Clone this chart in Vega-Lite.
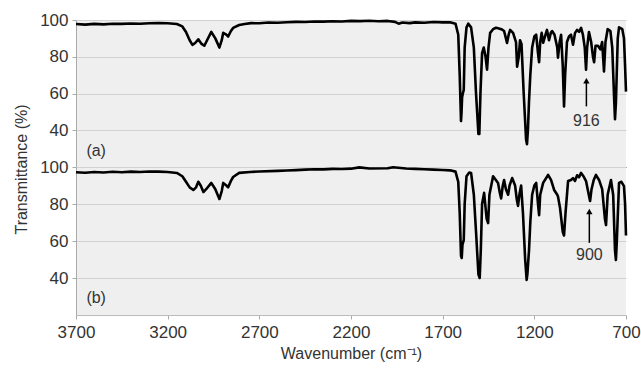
{
  "$schema": "https://vega.github.io/schema/vega-lite/v6.json",
  "background": "white",
  "padding": {"left": 13, "top": 11, "right": 10, "bottom": 2},
  "bounds": "flush",
  "spacing": 0,
  "datasets": {
    "a": [
      {"wn":3700,"t":97.8},{"wn":3650,"t":97.5},{"wn":3600,"t":97.9},{"wn":3550,"t":97.6},{"wn":3500,"t":98.0},{"wn":3450,"t":97.9},{"wn":3400,"t":98.1},{"wn":3350,"t":98.0},{"wn":3300,"t":98.2},{"wn":3250,"t":98.3},{"wn":3200,"t":98.2},{"wn":3150,"t":97.8},{"wn":3120,"t":96.5},{"wn":3100,"t":93.5},{"wn":3080,"t":89},{"wn":3065,"t":86.5},{"wn":3050,"t":87.5},{"wn":3033,"t":89.5},{"wn":3015,"t":87},{"wn":3000,"t":86},{"wn":2985,"t":89},{"wn":2962,"t":93.5},{"wn":2940,"t":90},{"wn":2918,"t":85},{"wn":2905,"t":89},{"wn":2897,"t":93},{"wn":2880,"t":92},{"wn":2870,"t":91},{"wn":2855,"t":94},{"wn":2843,"t":95.7},{"wn":2810,"t":97.3},{"wn":2780,"t":97.8},{"wn":2745,"t":98.3},{"wn":2700,"t":98.2},{"wn":2650,"t":98.6},{"wn":2600,"t":98.5},{"wn":2550,"t":98.8},{"wn":2500,"t":99.0},{"wn":2450,"t":98.9},{"wn":2400,"t":99.2},{"wn":2350,"t":99.1},{"wn":2300,"t":99.3},{"wn":2250,"t":99.2},{"wn":2200,"t":99.5},{"wn":2150,"t":99.4},{"wn":2100,"t":99.6},{"wn":2050,"t":99.3},{"wn":2000,"t":99.5},{"wn":1960,"t":99.0},{"wn":1940,"t":98.0},{"wn":1920,"t":98.6},{"wn":1880,"t":98.3},{"wn":1850,"t":98.7},{"wn":1800,"t":98.5},{"wn":1750,"t":98.9},{"wn":1700,"t":98.7},{"wn":1660,"t":98.8},{"wn":1630,"t":98.0},{"wn":1615,"t":92},{"wn":1607,"t":70},{"wn":1600,"t":45},{"wn":1597,"t":50},{"wn":1594,"t":58},{"wn":1590,"t":60},{"wn":1585,"t":62},{"wn":1580,"t":85},{"wn":1570,"t":96},{"wn":1560,"t":98},{"wn":1545,"t":96},{"wn":1530,"t":85},{"wn":1518,"t":60},{"wn":1505,"t":38},{"wn":1500,"t":38},{"wn":1494,"t":60},{"wn":1485,"t":82},{"wn":1476,"t":85},{"wn":1466,"t":80},{"wn":1458,"t":73},{"wn":1450,"t":85},{"wn":1441,"t":93},{"wn":1425,"t":95},{"wn":1409,"t":95.8},{"wn":1398,"t":95.5},{"wn":1380,"t":95},{"wn":1365,"t":94},{"wn":1355,"t":90},{"wn":1349,"t":87.5},{"wn":1340,"t":92},{"wn":1332,"t":94.6},{"wn":1316,"t":93},{"wn":1300,"t":88},{"wn":1294,"t":74.6},{"wn":1285,"t":80},{"wn":1278,"t":89},{"wn":1270,"t":87},{"wn":1258,"t":60},{"wn":1245,"t":35},{"wn":1240,"t":32.4},{"wn":1235,"t":40},{"wn":1229,"t":55.7},{"wn":1222,"t":70},{"wn":1212,"t":85},{"wn":1200,"t":91},{"wn":1190,"t":92},{"wn":1180,"t":82},{"wn":1174,"t":77},{"wn":1168,"t":88},{"wn":1160,"t":93},{"wn":1152,"t":87.6},{"wn":1145,"t":90},{"wn":1131,"t":94.6},{"wn":1120,"t":89},{"wn":1110,"t":93},{"wn":1103,"t":94},{"wn":1090,"t":92},{"wn":1075,"t":85},{"wn":1071,"t":79.5},{"wn":1062,"t":88},{"wn":1054,"t":92},{"wn":1045,"t":75},{"wn":1038,"t":53},{"wn":1032,"t":70},{"wn":1022,"t":88},{"wn":1011,"t":91},{"wn":1000,"t":92},{"wn":989,"t":86.5},{"wn":978,"t":93},{"wn":967,"t":94.6},{"wn":956,"t":93.5},{"wn":945,"t":95.7},{"wn":935,"t":92},{"wn":925,"t":85},{"wn":918,"t":73},{"wn":912,"t":85},{"wn":902,"t":93.5},{"wn":890,"t":88},{"wn":880,"t":80},{"wn":874,"t":77},{"wn":866,"t":86},{"wn":853,"t":86},{"wn":840,"t":84},{"wn":830,"t":88},{"wn":825,"t":80},{"wn":820,"t":72},{"wn":812,"t":88},{"wn":800,"t":95},{"wn":785,"t":94},{"wn":775,"t":85},{"wn":765,"t":58},{"wn":760,"t":46},{"wn":755,"t":55},{"wn":745,"t":90},{"wn":738,"t":96},{"wn":720,"t":95},{"wn":711,"t":90},{"wn":705,"t":75},{"wn":700,"t":61}
    ],
    "b": [
      {"wn":3700,"t":97.2},{"wn":3650,"t":96.9},{"wn":3600,"t":97.3},{"wn":3550,"t":97.0},{"wn":3500,"t":97.4},{"wn":3450,"t":97.2},{"wn":3400,"t":97.5},{"wn":3350,"t":97.3},{"wn":3300,"t":97.6},{"wn":3250,"t":97.5},{"wn":3200,"t":97.3},{"wn":3150,"t":96.8},{"wn":3120,"t":95},{"wn":3100,"t":92},{"wn":3080,"t":89},{"wn":3060,"t":87.6},{"wn":3045,"t":89},{"wn":3033,"t":92},{"wn":3020,"t":90},{"wn":3005,"t":86.5},{"wn":2990,"t":88},{"wn":2962,"t":91.4},{"wn":2940,"t":88},{"wn":2918,"t":82.7},{"wn":2905,"t":87},{"wn":2897,"t":91.4},{"wn":2880,"t":90},{"wn":2870,"t":89},{"wn":2855,"t":92.5},{"wn":2843,"t":94.6},{"wn":2810,"t":96.8},{"wn":2750,"t":97.3},{"wn":2700,"t":97.6},{"wn":2600,"t":97.9},{"wn":2550,"t":98.1},{"wn":2500,"t":98.3},{"wn":2450,"t":98.6},{"wn":2400,"t":98.8},{"wn":2350,"t":98.7},{"wn":2300,"t":99.0},{"wn":2250,"t":98.9},{"wn":2200,"t":99.1},{"wn":2155,"t":99.8},{"wn":2100,"t":99.2},{"wn":2000,"t":99.3},{"wn":1970,"t":99.9},{"wn":1900,"t":99.2},{"wn":1850,"t":99.0},{"wn":1800,"t":98.8},{"wn":1750,"t":98.6},{"wn":1700,"t":98.4},{"wn":1660,"t":98.2},{"wn":1630,"t":97.5},{"wn":1615,"t":92},{"wn":1607,"t":75},{"wn":1600,"t":52},{"wn":1596,"t":50.8},{"wn":1592,"t":58},{"wn":1585,"t":60.5},{"wn":1580,"t":80},{"wn":1570,"t":95},{"wn":1555,"t":97},{"wn":1545,"t":96.8},{"wn":1530,"t":85},{"wn":1518,"t":65},{"wn":1505,"t":42},{"wn":1498,"t":40},{"wn":1492,"t":55},{"wn":1485,"t":80},{"wn":1474,"t":86},{"wn":1460,"t":72},{"wn":1452,"t":69.7},{"wn":1445,"t":85},{"wn":1425,"t":95},{"wn":1410,"t":93},{"wn":1398,"t":91.4},{"wn":1388,"t":86},{"wn":1381,"t":83},{"wn":1372,"t":90},{"wn":1365,"t":93},{"wn":1355,"t":88},{"wn":1343,"t":85},{"wn":1335,"t":90},{"wn":1321,"t":94},{"wn":1305,"t":90},{"wn":1295,"t":82},{"wn":1289,"t":79},{"wn":1280,"t":86},{"wn":1272,"t":90},{"wn":1262,"t":75},{"wn":1250,"t":50},{"wn":1242,"t":39},{"wn":1238,"t":42},{"wn":1229,"t":55},{"wn":1222,"t":70},{"wn":1212,"t":85},{"wn":1200,"t":90},{"wn":1190,"t":91.4},{"wn":1180,"t":80},{"wn":1174,"t":74},{"wn":1168,"t":85},{"wn":1152,"t":91.4},{"wn":1125,"t":95.7},{"wn":1109,"t":93},{"wn":1092,"t":87.6},{"wn":1075,"t":85},{"wn":1071,"t":84},{"wn":1060,"t":78},{"wn":1045,"t":65},{"wn":1038,"t":63},{"wn":1030,"t":75},{"wn":1016,"t":92.4},{"wn":1000,"t":93},{"wn":989,"t":94},{"wn":978,"t":92.5},{"wn":967,"t":95.5},{"wn":956,"t":94.5},{"wn":945,"t":96.8},{"wn":932,"t":95},{"wn":918,"t":92.4},{"wn":905,"t":86},{"wn":896,"t":81.6},{"wn":888,"t":88},{"wn":876,"t":93},{"wn":864,"t":95.7},{"wn":847,"t":93},{"wn":830,"t":88},{"wn":815,"t":72},{"wn":809,"t":68.6},{"wn":800,"t":85},{"wn":782,"t":93},{"wn":770,"t":85},{"wn":760,"t":55},{"wn":755,"t":49.7},{"wn":750,"t":60},{"wn":738,"t":91.4},{"wn":725,"t":92},{"wn":711,"t":89.7},{"wn":705,"t":80},{"wn":700,"t":63}
    ]
  },
  "vconcat": [
    {
      "width": 550,
      "height": 147,
      "layer": [
        {
          "data": {"name": "a"},
          "mark": {"type": "line", "color": "black", "strokeWidth": 2.6, "strokeJoin": "round"},
          "encoding": {
            "x": {"field": "wn", "type": "quantitative", "scale": {"domain": [700, 3700], "reverse": true, "nice": false, "zero": false},
                  "axis": {"labels": false, "ticks": false, "title": null, "grid": false, "domainColor": "#222", "domainWidth": 1.2}},
            "y": {"field": "t", "type": "quantitative", "scale": {"domain": [20, 100], "nice": false, "zero": false},
                  "axis": {"values": [40, 60, 80, 100], "title": "Transmittance (%)", "titleY": 149, "titlePadding": 10}}
          }
        },
        {
          "data": {"values": [{"wn": 916, "t1": 53, "t2": 66}]},
          "mark": {"type": "rule", "color": "black", "strokeWidth": 1.5},
          "encoding": {"x": {"field": "wn", "type": "quantitative"}, "y": {"field": "t1", "type": "quantitative"}, "y2": {"field": "t2"}}
        },
        {
          "data": {"values": [{"wn": 916, "t": 67}]},
          "mark": {"type": "point", "shape": "triangle-up", "filled": true, "color": "black", "size": 40, "opacity": 1},
          "encoding": {"x": {"field": "wn", "type": "quantitative"}, "y": {"field": "t", "type": "quantitative"}}
        },
        {
          "data": {"values": [{"wn": 916, "t": 45, "label": "916"}, {"wn": 3590, "t": 28.5, "label": "(a)"}]},
          "mark": {"type": "text", "fontSize": 16, "color": "#333", "font": "Liberation Sans", "baseline": "middle"},
          "encoding": {"x": {"field": "wn", "type": "quantitative"}, "y": {"field": "t", "type": "quantitative"}, "text": {"field": "label"}}
        }
      ]
    },
    {
      "width": 550,
      "height": 148,
      "layer": [
        {
          "data": {"name": "b"},
          "mark": {"type": "line", "color": "black", "strokeWidth": 2.6, "strokeJoin": "round"},
          "encoding": {
            "x": {"field": "wn", "type": "quantitative", "scale": {"domain": [700, 3700], "reverse": true, "nice": false, "zero": false},
                  "axis": {"values": [3700, 3200, 2700, 2200, 1700, 1200, 700], "format": "d", "labelFlush": false, "grid": false, "title": "Wavenumber (cm⁻¹)", "labelPadding": 5, "titlePadding": 5, "domainColor": "#bbb"}},
            "y": {"field": "t", "type": "quantitative", "scale": {"domain": [20, 100], "nice": false, "zero": false},
                  "axis": {"values": [40, 60, 80, 100], "title": null}}
          }
        },
        {
          "data": {"values": [{"wn": 900, "t1": 59, "t2": 75}]},
          "mark": {"type": "rule", "color": "black", "strokeWidth": 1.5},
          "encoding": {"x": {"field": "wn", "type": "quantitative"}, "y": {"field": "t1", "type": "quantitative"}, "y2": {"field": "t2"}}
        },
        {
          "data": {"values": [{"wn": 900, "t": 76}]},
          "mark": {"type": "point", "shape": "triangle-up", "filled": true, "color": "black", "size": 40, "opacity": 1},
          "encoding": {"x": {"field": "wn", "type": "quantitative"}, "y": {"field": "t", "type": "quantitative"}}
        },
        {
          "data": {"values": [{"wn": 900, "t": 52.4, "label": "900"}, {"wn": 3590, "t": 29, "label": "(b)"}]},
          "mark": {"type": "text", "fontSize": 16, "color": "#333", "font": "Liberation Sans", "baseline": "middle"},
          "encoding": {"x": {"field": "wn", "type": "quantitative"}, "y": {"field": "t", "type": "quantitative"}, "text": {"field": "label"}}
        }
      ]
    }
  ],
  "config": {
    "font": "Liberation Sans",
    "view": {"fill": "#efefef", "stroke": null},
    "axis": {
      "labelFont": "Liberation Sans", "titleFont": "Liberation Sans",
      "labelFontSize": 17, "titleFontSize": 16,
      "labelColor": "#333", "titleColor": "#333", "titleFontWeight": "normal",
      "domainColor": "#aaa", "tickColor": "#aaa", "gridColor": "#d2d2d2",
      "tickSize": 4, "labelPadding": 4
    }
  }
}
